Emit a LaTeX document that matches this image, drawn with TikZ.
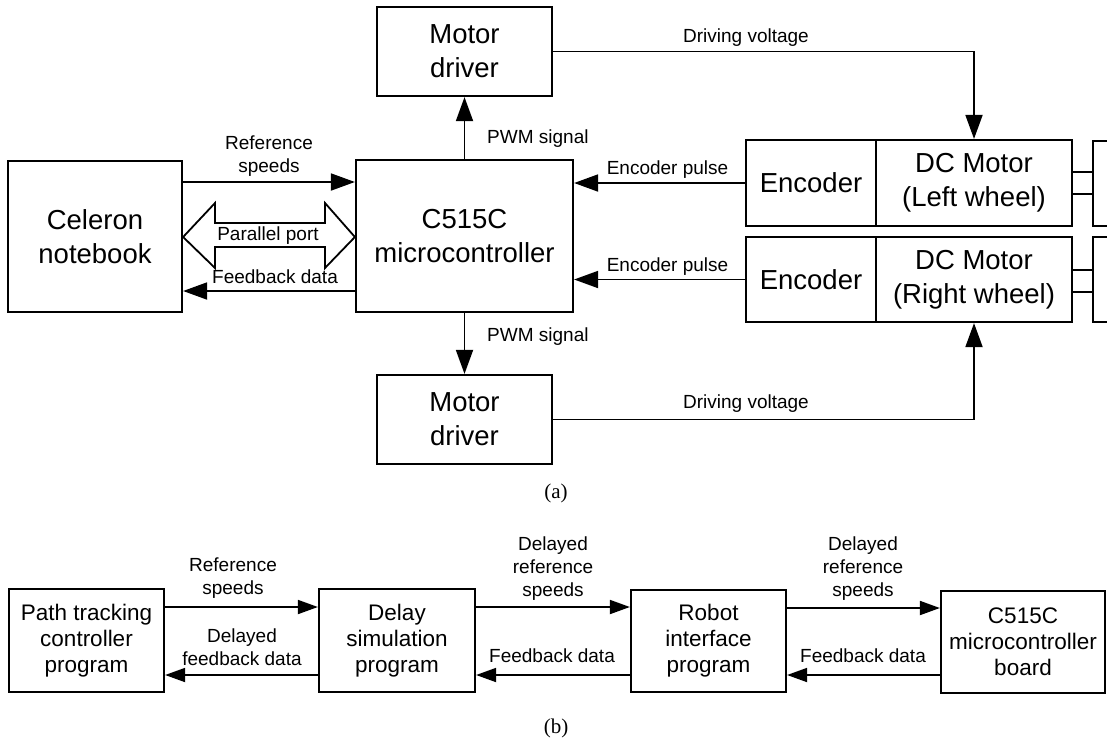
\documentclass[tikz,border=0pt]{standalone}
\usepackage{fontspec}
\setmainfont{Liberation Sans}
\newfontfamily\capfont{Liberation Serif}
\usetikzlibrary{arrows.meta}
\begin{document}
\begin{tikzpicture}[x=1pt,y=-1pt,
 box/.style={draw,line width=2.2pt,inner sep=0pt,align=center,font={\fontsize{27.5}{34}\selectfont}},
 sbox/.style={draw,line width=2.2pt,inner sep=0pt,align=center,font={\fontsize{22.5}{26}\selectfont}},
 lab/.style={inner sep=0pt,align=center,text depth=0pt,font={\fontsize{19}{23}\selectfont}},
 arr/.style={line width=1.8pt,-{Triangle[length=24pt,width=17pt]}},
 sarr/.style={line width=1.8pt,-{Triangle[length=20pt,width=14pt]}},
 ln/.style={line width=1.8pt},
 capt/.style={inner sep=0pt,font={\capfont\fontsize{21}{24}\selectfont}}]
\useasboundingbox (0,0) rectangle (1107,745);
% ---------- (a) ----------
\node[box,minimum width=174pt,minimum height=151pt] (cel) at (95,236.5) {Celeron\\notebook};
\node[box,minimum width=217pt,minimum height=152pt] (mc) at (464.5,236) {C515C\\microcontroller};
\node[box,minimum width=175pt,minimum height=89pt] (md1) at (464.5,51.5) {Motor\\driver};
\node[box,minimum width=175pt,minimum height=89pt] (md2) at (464.5,419.5) {Motor\\driver};
\node[box,minimum width=130pt,minimum height=86pt] (enc1) at (811,183) {Encoder};
\node[box,minimum width=196pt,minimum height=86pt] (dc1) at (974,183) {DC Motor\\(Left wheel)};
\node[box,minimum width=130pt,minimum height=85pt] (enc2) at (811,279.5) {Encoder};
\node[box,minimum width=196pt,minimum height=85pt] (dc2) at (974,279.5) {DC Motor\\(Right wheel)};
\node[box,minimum width=40pt,minimum height=85pt] (w1) at (1113,183.5) {};
\node[box,minimum width=40pt,minimum height=85pt] (w2) at (1113,279.5) {};

\draw[ln] (dc1.east |- 0,172) -- (w1.west |- 0,172);
\draw[ln] (dc1.east |- 0,194) -- (w1.west |- 0,194);
\draw[ln] (dc2.east |- 0,270) -- (w2.west |- 0,270);
\draw[ln] (dc2.east |- 0,292) -- (w2.west |- 0,292);

\draw[arr] (cel.east |- 0,182) -- (mc.west |- 0,182);
\draw[arr] (mc.west |- 0,291) -- (cel.east |- 0,291);
\draw[ln,line join=miter] (cel.east |- 0,237) -- (215,203) -- (215,223) -- (325,223) -- (325,203)
  -- (mc.west |- 0,237) -- (325,268) -- (325,247) -- (215,247) -- (215,268) -- cycle;

\draw[arr] (mc.north) -- (md1.south);
\draw[arr] (mc.south) -- (md2.north);
\draw[arr] (enc1.west) -- (mc.east |- enc1.west);
\draw[arr] (enc2.west) -- (mc.east |- enc2.west);
\draw[arr] (md1.east) -| (dc1.north);
\draw[arr] (md2.east) -| (dc2.south);

\node[lab,anchor=south] (l1) at (269,173) {Reference\\speeds};
\node[lab,anchor=base] (l2) at (268,240) {Parallel port};
\node[lab,anchor=base] (l3) at (275,283) {Feedback data};
\node[lab,anchor=base west] (l4) at (487,143) {PWM signal};
\node[lab,anchor=base west] (l5) at (487,341) {PWM signal};
\node[lab,anchor=base] (l6) at (746,42) {Driving voltage};
\node[lab,anchor=base] (l7) at (746,408) {Driving voltage};
\node[lab,anchor=base] (l8) at (667.5,174) {Encoder pulse};
\node[lab,anchor=base] (l9) at (667.5,271) {Encoder pulse};

\node[capt] (capa) at (556,493) {(a)};

% ---------- (b) ----------
\node[sbox,minimum width=155pt,minimum height=103pt] (p1) at (86.5,640.5) {Path tracking\\controller\\program};
\node[sbox,minimum width=156pt,minimum height=103pt] (p2) at (397,640.5) {Delay\\simulation\\program};
\node[sbox,minimum width=155pt,minimum height=102pt] (p3) at (708.5,641) {Robot\\interface\\program};
\node[sbox,minimum width=164pt,minimum height=102pt] (p4) at (1023,642) {C515C\\microcontroller\\board};

\draw[sarr] (p1.east |- 0,607) -- (p2.west |- 0,607);
\draw[sarr] (p2.east |- 0,607) -- (p3.west |- 0,607);
\draw[sarr] (p3.east |- 0,608) -- (p4.west |- 0,608);
\draw[sarr] (p2.west |- 0,675) -- (p1.east |- 0,675);
\draw[sarr] (p3.west |- 0,675) -- (p2.east |- 0,675);
\draw[sarr] (p4.west |- 0,675) -- (p3.east |- 0,675);

\node[lab,anchor=south] (b1) at (233,595) {Reference\\speeds};
\node[lab,anchor=south] (b2) at (242,666) {Delayed\\feedback data};
\node[lab,anchor=south] (b3) at (553,597) {Delayed\\reference\\speeds};
\node[lab,anchor=base] (b4) at (552,662) {Feedback data};
\node[lab,anchor=south] (b5) at (863,597) {Delayed\\reference\\speeds};
\node[lab,anchor=base] (b6) at (863,662) {Feedback data};

\node[capt] (capb) at (556,728) {(b)};
\end{tikzpicture}
\end{document}
